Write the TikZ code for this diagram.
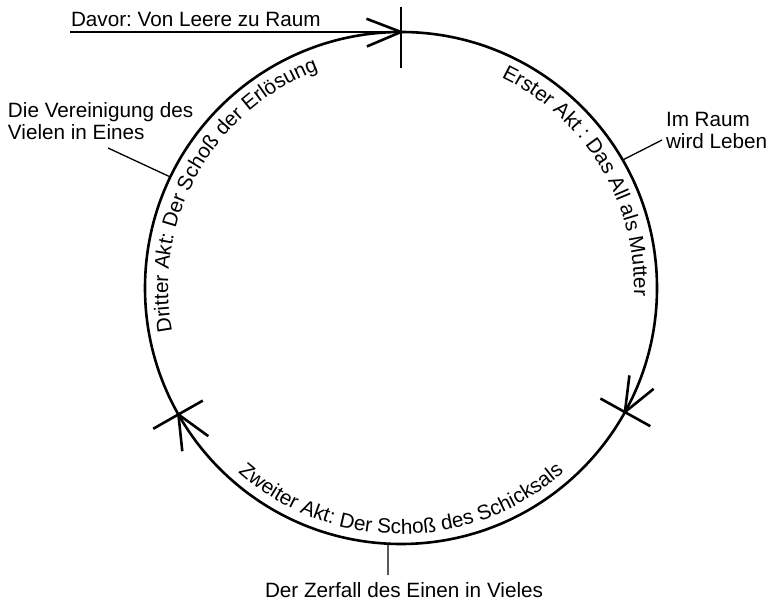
\documentclass[tikz,border=0pt]{standalone}
\usepackage{fontspec}
\setmainfont{Liberation Sans}
\usetikzlibrary{decorations.text}
\frenchspacing
\newcommand\lblfont{\fontsize{20.7}{22}\selectfont}
\begin{document}
\begin{tikzpicture}[x=1pt,y=1pt,
  main/.style={line width=2.6pt},
  leader/.style={line width=1.3pt},
  lbl/.style={font=\lblfont, inner sep=0pt, outer sep=0pt}]
\useasboundingbox (0,0) rectangle (770,605);
\coordinate (C) at (401,317);
% circle
\draw[main] (C) circle[radius=256];
% key points on circle
\coordinate (T) at ([shift={(C)}]90:256);
\coordinate (R) at ([shift={(C)}]-29:256);
\coordinate (L) at ([shift={(C)}]209.6:256);
% ticks
\draw[main] ([shift={(C)}]90:220) -- ([shift={(C)}]90:281);
\draw[main] ([shift={(C)}]-29:228) -- ([shift={(C)}]-29:285);
\draw[main] ([shift={(C)}]209.6:228) -- ([shift={(C)}]209.6:285);
% incoming line with arrowhead at top
\coordinate (S) at (70,573);
\draw[main] (S) -- (T);
\draw[main] (T) -- ++(159:37) (T) -- ++(203:37);
% arrowheads on the circle
\draw[main] (R) -- ++(39:37) (R) -- ++(83:37);
\draw[main] (L) -- ++(276:37) (L) -- ++(324:37);
% curved texts
\path[decorate, decoration={text along path, text align=left,
  text={|\lblfont|Erster Akt : Das All als Mutter}}]
  ([shift={(C)}]64.5:233) arc[start angle=64.5, end angle=-40, radius=233];
\path[decorate, decoration={text along path, text align=left,
  text={|\lblfont|Dritter Akt: Der Schoß der Erlösung}}]
  ([shift={(C)}]190.8:233) arc[start angle=190.8, end angle=85, radius=233];
\path[decorate, decoration={text along path, text align=center,
  text={|\lblfont|Zweiter Akt: Der Schoß des Schicksals}}]
  ([shift={(C)}]200:246) arc[start angle=200, end angle=340, radius=246];
% labels
\node[lbl, anchor=base west] (davor) at (71,578) {Davor: Von Leere zu Raum};
\node[lbl, anchor=north west, align=left] (vere) at (8,502) {Die Vereinigung des\\Vielen in Eines};
\node[lbl, anchor=north west, align=left] (raum) at (666,493) {Im Raum\\wird Leben};
\node[lbl, anchor=base west] (zerf) at (265,8) {Der Zerfall des Einen in Vieles};
% leaders
\coordinate (VA) at (108,457);
\coordinate (VC) at ([shift={(C)}]154.3:256);
\draw[leader] (VA) -- (VC);
\coordinate (RA) at (662,465);
\coordinate (RC) at ([shift={(C)}]30:256);
\draw[leader] (RA) -- (RC);
\coordinate (ZC) at ([shift={(C)}]267.1:256);
\coordinate (ZA) at (388,30);
\draw[leader] (ZC) -- (ZA);
\end{tikzpicture}
\end{document}
